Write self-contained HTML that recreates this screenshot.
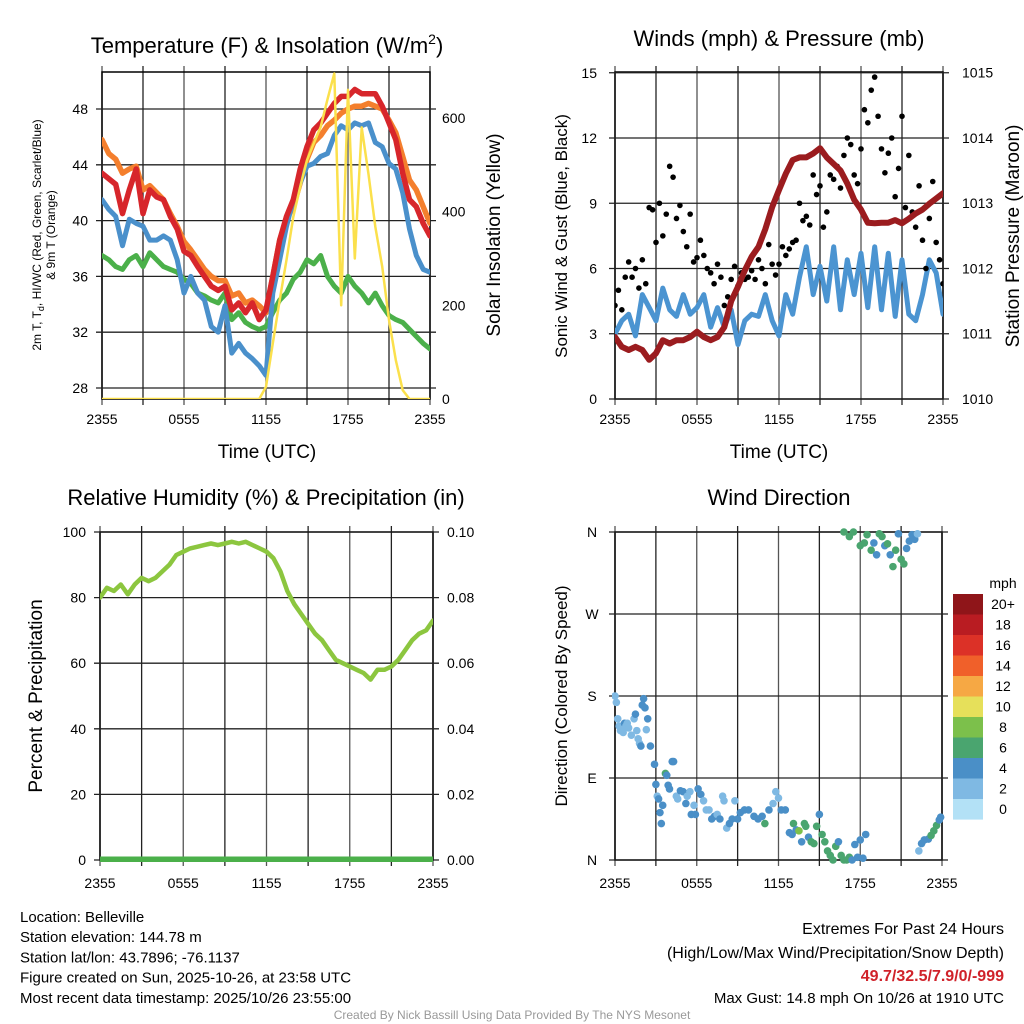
<!DOCTYPE html>
<html><head><meta charset="utf-8">
<style>
html,body{margin:0;padding:0;background:#fff;}
svg{display:block;font-family:"Liberation Sans",Arial,sans-serif;}
</style></head>
<body>
<svg id="chart" width="1024" height="1024" viewBox="0 0 1024 1024">
<defs>
<clipPath id="c1"><rect x="102" y="72" width="328" height="327"/></clipPath>
<clipPath id="c2"><rect x="615" y="72" width="328" height="327"/></clipPath>
<clipPath id="c3"><rect x="100" y="532" width="333" height="330"/></clipPath>
<clipPath id="c4"><rect x="612" y="528" width="334" height="336"/></clipPath>
</defs>
<g id="static"></g>
<g id="marks"></g>
</svg>
<script>
// ---------- DATA ----------
const hours30 = Array.from({length:49},(_,i)=>i*0.5);
const tempRed = [43.4,43.0,42.6,40.5,42.2,43.7,40.5,42.2,41.7,41.5,40.3,39.4,37.8,37.5,36.7,36.0,35.3,35.0,35.3,33.6,34.1,33.4,34.1,32.9,33.6,36.0,38.6,40.3,41.5,43.7,45.3,46.5,47.0,47.7,48.4,48.9,48.9,49.4,49.1,49.1,49.1,48.2,47.0,45.8,43.4,41.5,41.0,39.8,38.9];
const temp9m = [45.8,44.8,44.4,43.4,43.7,43.9,42.2,42.5,42.0,41.5,40.5,39.6,38.5,37.9,37.2,36.5,36.0,35.7,35.7,34.6,34.8,34.1,34.3,33.9,33.4,36.0,38.6,40.1,41.0,42.7,44.4,45.6,46.1,46.8,47.2,47.7,48.0,48.2,48.2,48.4,48.2,48.0,47.2,46.3,44.6,42.9,42.2,41.0,39.8];
const tempBlue = [41.5,40.8,40.3,38.2,40.1,39.8,39.6,38.6,38.6,38.9,38.6,37.2,34.8,36.0,34.8,34.3,32.4,32.0,33.9,30.5,31.2,30.5,30.1,29.6,28.9,34.8,37.2,39.6,41.5,42.7,43.9,44.1,44.6,44.8,46.1,46.8,46.5,47.0,46.8,47.0,45.6,45.3,44.1,43.7,42.0,39.4,37.5,36.5,36.3];
const dewGreen = [37.5,37.2,36.7,36.5,37.2,37.5,36.7,37.7,37.2,36.7,36.5,36.3,35.8,35.5,34.8,34.6,34.3,34.1,34.8,32.9,33.4,32.7,32.4,32.2,32.4,33.4,34.3,34.8,35.8,36.3,37.2,36.9,37.5,36.0,35.3,34.8,36.0,35.3,34.8,34.1,34.8,33.9,33.2,32.9,32.7,32.2,31.7,31.2,30.8];
const insolation = [0,0,0,0,0,0,0,0,0,0,0,0,0,0,0,0,0,0,0,0,0,0,0,0,26,119,211,297,389,453,510,546,581,640,695,200,660,300,580,480,368,283,169,83,19,0,0,0,0];
const windSpeed = [3.0,3.6,3.9,2.9,4.8,4.2,3.6,5.1,4.1,3.8,4.8,3.9,4.2,4.8,3.3,4.2,3.3,4.1,2.5,3.6,3.9,3.8,4.8,3.6,2.9,4.8,3.9,5.6,7.0,4.8,6.1,4.5,7.0,4.1,6.4,4.8,6.7,4.2,7.0,4.1,6.7,3.8,6.4,3.9,3.6,4.8,6.4,5.8,3.9];
const pressure = [1010.95,1010.8,1010.75,1010.8,1010.75,1010.6,1010.7,1010.9,1010.85,1010.9,1010.9,1010.95,1011.03,1010.95,1010.9,1010.95,1011.1,1011.5,1011.72,1011.97,1012.18,1012.33,1012.6,1012.94,1013.2,1013.45,1013.66,1013.7,1013.7,1013.76,1013.84,1013.7,1013.6,1013.5,1013.3,1013.05,1012.9,1012.7,1012.69,1012.7,1012.7,1012.74,1012.69,1012.76,1012.84,1012.9,1012.99,1013.07,1013.15];
const gusts = [4.3,5.0,4.1,5.6,6.3,5.6,6.0,5.1,6.4,5.3,8.8,8.7,7.2,9.0,7.5,8.5,10.7,10.2,8.3,8.9,7.7,7.0,8.5,6.3,6.5,7.3,6.6,6.0,5.8,5.3,6.2,5.6,4.3,4.7,5.5,6.1,5.2,5.8,5.5,5.6,5.9,5.5,6.4,6.0,5.3,7.1,6.2,5.7,6.2,7.0,6.6,6.9,7.2,7.3,9.0,8.2,8.4,8.0,10.3,9.4,9.8,7.9,8.6,10.3,10.1,10.7,9.7,11.2,12.0,11.7,10.3,9.9,11.5,13.3,12.7,14.2,14.8,13.0,11.5,10.4,11.3,12.0,9.3,10.6,13.0,8.8,11.2,8.6,7.9,9.8,7.3,6.0,8.3,10.0,7.2,6.4,5.3];
const relHum = [80,83,82,84,81,84,86,85,86,88,90,93,94,95,95.5,96,96.5,96,96.5,97,96.5,97,96,95,94,92,88,82,78,75,72,69,67,64,61,60,59,58,57,55,58,58,59,61,64,67,69,70,73];
const precip = [0,0,0,0,0,0,0,0,0,0,0,0,0,0,0,0,0,0,0,0,0,0,0,0,0,0,0,0,0,0,0,0,0,0,0,0,0,0,0,0,0,0,0,0,0,0,0,0,0];
const dirHours = [0.0,0.1,0.2,0.3,0.4,0.5,0.6,0.7,0.8,0.9,1.0,1.2,1.4,1.5,1.6,1.7,1.8,1.9,2.0,2.1,2.2,2.3,2.4,2.6,2.9,3.0,3.1,3.2,3.3,3.4,3.5,3.7,3.8,3.9,4.0,4.2,4.3,4.5,4.6,4.8,5.0,5.2,5.3,5.5,5.6,5.8,5.9,6.1,6.3,6.5,6.7,6.9,7.1,7.3,7.5,7.7,7.9,8.0,8.2,8.4,8.6,8.8,9.0,9.2,9.5,9.8,10.2,10.5,10.8,11.0,11.3,11.6,11.8,12.0,12.2,12.5,12.8,13.0,13.1,13.3,13.5,13.7,13.9,14.0,14.2,14.4,14.6,14.8,15.0,15.2,15.4,15.6,15.8,16.0,16.2,16.4,16.6,16.8,17.0,17.2,17.4,17.6,17.8,18.0,18.2,18.4,16.8,17.2,17.5,18.0,18.3,18.5,18.8,19.0,19.2,19.4,19.6,19.8,20.0,20.2,20.4,20.6,20.8,21.0,21.2,21.4,21.6,21.8,22.0,22.2,22.3,22.5,22.7,23.0,23.2,23.4,23.6,23.8,23.9];
const dirDeg = [180,173,155,147,142,145,140,150,147,150,145,137,155,160,142,133,128,125,170,177,167,143,155,125,105,83,70,67,52,40,60,95,93,82,78,108,108,70,67,76,75,62,70,75,50,60,50,78,72,65,55,55,45,48,50,45,70,65,35,40,45,65,45,52,55,55,48,45,48,40,55,62,75,68,55,55,30,28,40,33,32,20,40,37,25,20,18,37,50,28,20,10,5,0,15,20,5,0,0,3,0,17,3,22,2,28,360,355,360,345,348,357,340,348,335,358,355,345,347,335,322,340,358,330,325,342,350,357,352,358,10,18,22,23,27,32,38,44,47];
const dirSpeed = [2,2,2,2,2,3,2,4,2,3,3,2,3,4,2,3,2,4,4,4,4,3,4,4,4,4,2,4,4,4,4,6,4,4,4,4,4,3,2,4,4,4,2,3,4,3,4,4,4,2,2,2,4,4,2,4,2,2,2,4,4,2,4,4,4,4,4,4,4,6,4,2,2,2,4,4,4,4,6,4,8,4,6,6,4,6,6,6,4,6,6,6,6,6,6,4,6,6,6,6,4,4,4,4,4,4,6,6,6,6,6,6,6,4,4,6,6,4,6,4,6,6,4,6,6,4,4,4,4,2,2,4,4,4,6,6,6,4,4];
const tempTicks = [28,32,36,40,44,48];
const solarTicks = [0,200,400,600];
const windTicks = [0,3,6,9,12,15];
const presTicks = [1010,1011,1012,1013,1014,1015];
const rhTicks = [0,20,40,60,80,100];
const precTicks = ["0.00","0.02","0.04","0.06","0.08","0.10"];
const dirTicks = [0,90,180,270,360];
const dirTickLabels = ["N","E","S","W","N"];
const timeTickHours = [0,6,12,18,24];
const timeTickLabels = ["2355","0555","1155","1755","2355"];
const cbLabels = ["20+","18","16","14","12","10","8","6","4","2","0"];
const cbColors = ["#8f1519","#b91c22","#dc3127","#f0602a","#f6a844","#e6e05a","#7cc04b","#4aa56f","#4a8fc7","#7fb9e3","#b3e1f6"];

// ---------- AXES ----------
const P1={x0:102,x1:430,y0:72,y1:399};
const P2={x0:615,x1:943,y0:72,y1:399};
const P3={x0:100,x1:433,y0:532,y1:860};
const P4={x0:615,x1:942,y0:532,y1:860};
const xT=(p,h)=>p.x0+h/24*(p.x1-p.x0);
const yTemp=t=>388-(t-28)*13.95;
const ySolar=s=>399-s*0.4683;
const yWind=w=>399-w*21.75;
const yPres=p=>399-(p-1010)*65.3;
const yRH=r=>860-r*3.28;
const yPrec=v=>860-v*3280;
const yDir=d=>860-d/360*328;

const NS="http://www.w3.org/2000/svg";
const stat=document.getElementById('static');
const marks=document.getElementById('marks');
function mk(tag,attrs,parent,text){const e=document.createElementNS(NS,tag);for(const k in attrs)e.setAttribute(k,attrs[k]);if(text!==undefined)e.textContent=text;(parent||stat).appendChild(e);return e;}

function frame(p,nameBase){
  const g=mk('g',{});
  
  
  for(let i=0;i<=8;i++){const x=p.x0+i*(p.x1-p.x0)/8;mk('line',{x1:x,x2:x,y1:p.y0-6,y2:p.y1+6,stroke:(i%2?'#222':'#555'),'stroke-width':1.3},g);}
  const r=mk('rect',{x:p.x0,y:p.y0,width:p.x1-p.x0,height:p.y1-p.y0,fill:'none',stroke:'#000','stroke-width':1.5},g);
  return g;
}
function hgrid(p,ys,g){ys.forEach(y=>mk('line',{x1:p.x0-6,x2:p.x1+6,y1:y,y2:y,stroke:'#222','stroke-width':1.3},g));}
function txt(x,y,s,attrs,name){const t=mk('text',Object.assign({x:x,y:y,'font-size':14,fill:'#000'},attrs||{}),stat,s);return t;}
function xlabels(p,y,name){timeTickHours.forEach((h,i)=>{txt(xT(p,h),y,timeTickLabels[i],{'text-anchor':'middle'},name);});}

// Panel 1
let g=frame(P1,'temp-panel'); hgrid(P1,tempTicks.map(yTemp),g);
tempTicks.forEach(t=>txt(88,yTemp(t)+5,String(t),{'text-anchor':'end'},'temp-tick-label'));
solarTicks.forEach(s=>txt(442,ySolar(s)+5,String(s),{},'solar-tick-label'));
xlabels(P1,424,'temp-x-tick-label');
txt(267,458,'Time (UTC)',{'text-anchor':'middle','font-size':19},'temp-x-axis-title');
let t1=txt(267,53,'Temperature (F) & Insolation (W/m',{'text-anchor':'middle','font-size':22},'temp-chart-title');
mk('tspan',{'font-size':14,dy:-9},t1,'2'); mk('tspan',{dy:9},t1,')');
let yl=txt(0,0,'2m T, T',{'text-anchor':'middle','font-size':12,transform:'translate(41,235) rotate(-90)'},'temp-y-axis-title');
mk('tspan',{'font-size':9,dy:3},yl,'d'); mk('tspan',{dy:-3},yl,', HI/WC (Red, Green, Scarlet/Blue)');
txt(0,0,'& 9m T (Orange)',{'text-anchor':'middle','font-size':12,transform:'translate(55,235) rotate(-90)'},'temp-y-axis-title-2');
txt(0,0,'Solar Insolation (Yellow)',{'text-anchor':'middle','font-size':19,transform:'translate(500,235) rotate(-90)'},'solar-y-axis-title');

// Panel 2
g=frame(P2,'wind-panel'); hgrid(P2,windTicks.map(yWind),g);
windTicks.forEach(w=>txt(597,yWind(w)+5,String(w),{'text-anchor':'end'},'wind-tick-label'));
presTicks.forEach(p=>txt(962,yPres(p)+5,String(p),{},'pressure-tick-label'));
xlabels(P2,424,'wind-x-tick-label');
txt(779,458,'Time (UTC)',{'text-anchor':'middle','font-size':19},'wind-x-axis-title');
txt(779,46,'Winds (mph) & Pressure (mb)',{'text-anchor':'middle','font-size':22},'wind-chart-title');
txt(0,0,'Sonic Wind & Gust (Blue, Black)',{'text-anchor':'middle','font-size':17,transform:'translate(567,236) rotate(-90)'},'wind-y-axis-title');
txt(0,0,'Station Pressure (Maroon)',{'text-anchor':'middle','font-size':19,transform:'translate(1019,236) rotate(-90)'},'pressure-y-axis-title');

// Panel 3
g=frame(P3,'rh-panel'); hgrid(P3,rhTicks.map(yRH),g);
rhTicks.forEach(r=>txt(86,yRH(r)+5,String(r),{'text-anchor':'end'},'rh-tick-label'));
precTicks.forEach((s,i)=>txt(447,yRH(rhTicks[i])+5,s,{},'precip-tick-label'));
xlabels(P3,888,'rh-x-tick-label');
txt(266,505,'Relative Humidity (%) & Precipitation (in)',{'text-anchor':'middle','font-size':22},'rh-chart-title');
txt(0,0,'Percent & Precipitation',{'text-anchor':'middle','font-size':19,transform:'translate(42,696) rotate(-90)'},'rh-y-axis-title');

// Panel 4
g=frame(P4,'direction-panel'); hgrid(P4,dirTicks.map(yDir),g);
dirTicks.forEach((d,i)=>txt(592,yDir(d)+5,dirTickLabels[i],{'text-anchor':'middle'},'direction-tick-label'));
xlabels(P4,888,'direction-x-tick-label');
txt(779,505,'Wind Direction',{'text-anchor':'middle','font-size':22},'direction-chart-title');
txt(0,0,'Direction (Colored By Speed)',{'text-anchor':'middle','font-size':17,transform:'translate(567,696) rotate(-90)'},'direction-y-axis-title');
// colorbar
txt(1003,588,'mph',{'text-anchor':'middle'},'colorbar-title');
cbColors.forEach((c,i)=>{
  const r=mk('rect',{x:953,y:594+i*20.5,width:30,height:20.6,fill:c});
  
  
  txt(1003,594+i*20.5+15,cbLabels[i],{'text-anchor':'middle'},'colorbar-label');
});

// footer
const foot=['Location: Belleville','Station elevation: 144.78 m','Station lat/lon: 43.7896; -76.1137','Figure created on Sun, 2025-10-26, at 23:58 UTC','Most recent data timestamp: 2025/10/26 23:55:00'];
foot.forEach((s,i)=>txt(20,922+i*20.2,s,{'font-size':15},'station-info-line'));
txt(1004,934,'Extremes For Past 24 Hours',{'text-anchor':'end','font-size':16},'extremes-title');
txt(1004,958,'(High/Low/Max Wind/Precipitation/Snow Depth)',{'text-anchor':'end','font-size':16},'extremes-subtitle');
txt(1004,981,'49.7/32.5/7.9/0/-999',{'text-anchor':'end','font-size':16,'font-weight':'bold',fill:'#d0222a'},'extremes-values');
txt(1004,1003,'Max Gust: 14.8 mph On 10/26 at 1910 UTC',{'text-anchor':'end','font-size':15},'max-gust-text');
txt(512,1019,'Created By Nick Bassill Using Data Provided By The NYS Mesonet',{'text-anchor':'middle','font-size':12,fill:'#999'},'credit-text');

// ---------- MARKS ----------
function line(p,xs,ys,yf,color,w,clip,name){
  const d=ys.map((v,i)=>(i?'L':'M')+xT(p,xs[i]).toFixed(1)+','+yf(v).toFixed(1)).join('');
  const e=mk('path',{d:d,fill:'none',stroke:color,'stroke-width':w,'stroke-linejoin':'round','stroke-linecap':'round','clip-path':'url(#'+clip+')'},marks);
  
  
}
line(P1,hours30,dewGreen,yTemp,'#4bb04a',5,'c1','dewpoint-line');
line(P1,hours30,temp9m,yTemp,'#f47f2d',5.5,'c1','temp-9m-line');
line(P1,hours30,tempBlue,yTemp,'#4a90cb',5,'c1','heat-index-line');
line(P1,hours30,tempRed,yTemp,'#d7262b',5.5,'c1','temp-2m-line');
line(P1,hours30,insolation,ySolar,'#fbe04c',2.5,'c1','insolation-line');

line(P2,hours30,windSpeed,yWind,'#4b94d1',5,'c2','wind-speed-line');
gusts.forEach((v,i)=>{
  const c=mk('circle',{cx:xT(P2,i*24/(gusts.length-1)),cy:yWind(v),r:2.8,fill:'#000','clip-path':'url(#c2)'},marks);
  
  
});
line(P2,hours30,pressure,yPres,'#9b1c1f',6,'c2','pressure-line');

line(P3,hours30,relHum,yRH,'#8cc63f',4.5,'c3','rh-line');
line(P3,hours30,precip,yPrec,'#4bb04a',7,'c3','precip-line');

function spColor(s){const idx=Math.min(10,Math.max(0,10-Math.floor(s/2)));return cbColors[idx];}
dirHours.forEach((h,i)=>{
  const c=mk('circle',{cx:xT(P4,h),cy:yDir(dirDeg[i]),r:3.8,fill:spColor(dirSpeed[i]),'clip-path':'url(#c4)'},marks);
  
  
});
</script>
</body></html>
